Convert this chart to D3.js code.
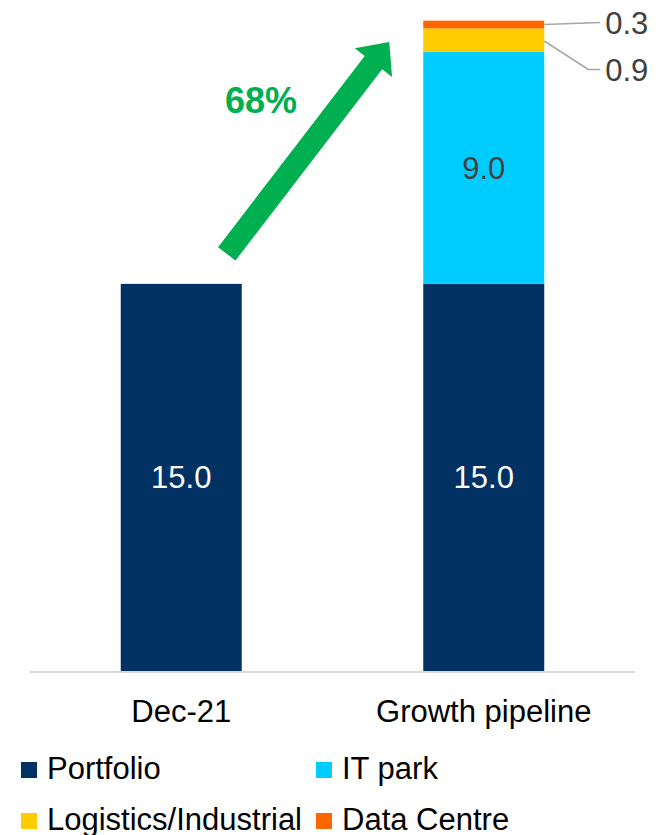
<!DOCTYPE html>
<html>
<head>
<meta charset="utf-8">
<script src="https://cdn.jsdelivr.net/npm/d3@7"></script>
<style>
  html, body { margin: 0; padding: 0; background: #fff; }
  svg { display: block; font-family: "Liberation Sans", Arial, sans-serif; }
</style>
</head>
<body>
<div id="chart"></div>
<script>
const categories = ["Dec-21", "Growth pipeline"];
const seriesNames = ["Portfolio", "IT park", "Logistics/Industrial", "Data Centre"];
const portfolio = [15.0, 15.0];
const itPark = [0, 9.0];
const logistics = [0, 0.9];
const dataCentre = [0, 0.3];
const growthLabel = "68%";

const colors = ["#023263", "#00ccff", "#ffcc00", "#ff6600"];

const width = 661, height = 835;
const svg = d3.select("#chart").append("svg")
    .attr("width", width)
    .attr("height", height);

const rows = categories.map((c, i) => ({
    cat: c,
    "Portfolio": portfolio[i],
    "IT park": itPark[i],
    "Logistics/Industrial": logistics[i],
    "Data Centre": dataCentre[i]
}));
const stacked = d3.stack().keys(seriesNames)(rows);

const x = d3.scaleBand()
    .domain(categories)
    .range([30, 635])
    .paddingInner(0.6)
    .paddingOuter(0.3);

const y = d3.scaleLinear()
    .domain([0, 26])
    .range([671, 0]);

// bars
const layers = svg.append("g").selectAll("g")
    .data(stacked)
    .enter().append("g")
    .attr("fill", (d, i) => colors[i]);

layers.selectAll("rect")
    .data(d => d)
    .enter().append("rect")
    .attr("x", d => x(d.data.cat))
    .attr("width", x.bandwidth())
    .attr("y", d => y(d[1]))
    .attr("height", d => y(d[0]) - y(d[1]));

// x axis line
svg.append("line")
    .attr("x1", x.range()[0]).attr("x2", x.range()[1])
    .attr("y1", y(0) + 1).attr("y2", y(0) + 1)
    .attr("stroke", "#d9d9d9")
    .attr("stroke-width", 2);

// category labels
svg.append("g").selectAll("text")
    .data(categories)
    .enter().append("text")
    .attr("x", d => x(d) + x.bandwidth() / 2)
    .attr("y", 722)
    .attr("text-anchor", "middle")
    .attr("font-size", 31)
    .attr("fill", "#000")
    .text(d => d);

// inside labels (Portfolio + IT park)
const inside = [];
stacked.slice(0, 2).forEach((s, si) => {
    s.forEach(d => {
        if (d[1] - d[0] > 0) inside.push({ cat: d.data.cat, mid: (d[0] + d[1]) / 2, v: d[1] - d[0], si: si });
    });
});
svg.append("g").selectAll("text")
    .data(inside)
    .enter().append("text")
    .attr("x", d => x(d.cat) + x.bandwidth() / 2)
    .attr("y", d => y(d.mid) + 11)
    .attr("text-anchor", "middle")
    .attr("font-size", 31)
    .attr("fill", d => d.si === 0 ? "#fff" : "#404040")
    .text(d => d.v.toFixed(1));

// outside labels with leader lines (small segments)
const gx = x(categories[1]) + x.bandwidth();
const dcMid = (stacked[3][1][0] + stacked[3][1][1]) / 2;
const lgMid = (stacked[2][1][0] + stacked[2][1][1]) / 2;
const callouts = [
    { v: dataCentre[1], pts: [[gx, y(dcMid)], [gx + 56, y(dcMid) - 2]], ty: 34 },
    { v: logistics[1], pts: [[gx, y(lgMid) + 1], [gx + 44, 69.5], [gx + 56, 69.5]], ty: 81 }
];
const co = svg.append("g");
co.selectAll("path")
    .data(callouts)
    .enter().append("path")
    .attr("d", d => d3.line()(d.pts))
    .attr("fill", "none")
    .attr("stroke", "#a6a6a6")
    .attr("stroke-width", 1.5);
co.selectAll("text")
    .data(callouts)
    .enter().append("text")
    .attr("x", gx + 61)
    .attr("y", d => d.ty)
    .attr("font-size", 31)
    .attr("fill", "#404040")
    .text(d => d.v.toFixed(1));

// growth arrow
const tail = [x(categories[0]) + x.bandwidth() - 15, y(portfolio[0]) - 30];
const tip = [x(categories[1]) - 34, 42];
const dx = tip[0] - tail[0], dy = tip[1] - tail[1];
const len = Math.hypot(dx, dy);
const ux = dx / len, uy = dy / len;
const px = -uy, py = ux;
const shaftW = 22, headW = 47, headL = 26;
const base = [tip[0] - ux * headL, tip[1] - uy * headL];
const arrowPts = [
    [tail[0] + px * shaftW / 2, tail[1] + py * shaftW / 2],
    [base[0] + px * shaftW / 2, base[1] + py * shaftW / 2],
    [base[0] + px * headW / 2, base[1] + py * headW / 2],
    tip,
    [base[0] - px * headW / 2, base[1] - py * headW / 2],
    [base[0] - px * shaftW / 2, base[1] - py * shaftW / 2],
    [tail[0] - px * shaftW / 2, tail[1] - py * shaftW / 2]
];
svg.append("path")
    .attr("d", d3.line()(arrowPts) + "Z")
    .attr("fill", "#00b050");

svg.append("text")
    .attr("x", 261)
    .attr("y", 113)
    .attr("text-anchor", "middle")
    .attr("font-size", 36)
    .attr("font-weight", "bold")
    .attr("fill", "#00b050")
    .text(growthLabel);

// legend
const legend = svg.append("g").selectAll("g")
    .data(seriesNames)
    .enter().append("g")
    .attr("transform", (d, i) => `translate(${i % 2 === 0 ? 21 : 316}, ${i < 2 ? 762 : 813})`);
legend.append("rect")
    .attr("width", 16)
    .attr("height", 16)
    .attr("fill", (d, i) => colors[i]);
legend.append("text")
    .attr("x", 26)
    .attr("y", 17)
    .attr("font-size", 31)
    .attr("fill", "#000")
    .text(d => d);
</script>
</body>
</html>
